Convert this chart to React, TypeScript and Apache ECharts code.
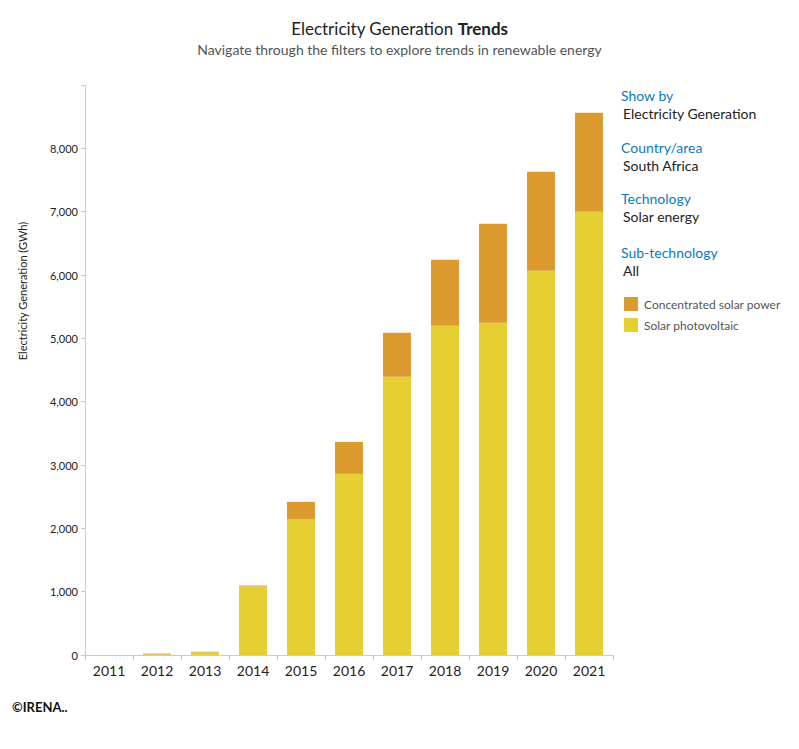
import React, { useEffect, useRef } from "react";
import * as echarts from "echarts";

const years = ["2011", "2012", "2013", "2014", "2015", "2016", "2017", "2018", "2019", "2020", "2021"];
const solarPV = [0, 10, 42, 1082, 2148, 2860, 4392, 5197, 5245, 6066, 6998];
const csp = [0, 12, 10, 14, 270, 505, 695, 1043, 1564, 1564, 1564];
const yTicks = [0, 1000, 2000, 3000, 4000, 5000, 6000, 7000, 8000];

const FONT = "Lato, 'Open Sans', sans-serif";
const BLUE = "#0a7bbd";
const ORANGE = "#dc9a2f";
const YELLOW = "#e5cf32";

export default function App() {
  const ref = useRef<HTMLDivElement>(null);
  useEffect(() => {
    if (!ref.current) return;
    const chart = echarts.init(ref.current, undefined, { renderer: "svg" });
    const panel = [
      ["Show by", "Electricity Generation", 97],
      ["Country/area", "South Africa", 149],
      ["Technology", "Solar energy", 200],
      ["Sub-technology", "All", 254],
    ];
    const graphics: any[] = [];
    panel.forEach(([h, v, y]) => {
      graphics.push({
        type: "text",
        left: 621,
        top: (y as number) - 9,
        style: { text: h as string, fill: BLUE, font: `14px ${FONT}`, lineHeight: 14 },
      });
      graphics.push({
        type: "text",
        left: 623,
        top: (y as number) + 9,
        style: { text: v as string, fill: "#222", font: `14px ${FONT}`, lineHeight: 14 },
      });
    });
    graphics.push({
      type: "text",
      x: 22,
      y: 291,
      rotation: Math.PI / 2,
      style: {
        text: "Electricity Generation (GWh)",
        fill: "#222",
        font: `11px ${FONT}`,
        align: "center",
        verticalAlign: "middle",
      },
    });
    graphics.push({
      type: "text",
      left: 12,
      top: 700,
      style: { text: "©IRENA..", fill: "#111", font: `bold 13px ${FONT}` },
    });
    chart.setOption({
      animation: false,
      backgroundColor: "#fff",
      textStyle: { fontFamily: FONT },
      title: {
        left: "center",
        top: 15,
        text: "{a|Electricity Generation }{b|Trends}",
        textStyle: {
          fontWeight: "normal",
          rich: {
            a: { fontSize: 17, color: "#222", fontWeight: "normal", fontFamily: FONT },
            b: { fontSize: 17, color: "#222", fontWeight: "bold", fontFamily: FONT },
          },
        },
        subtext: "Navigate through the filters to explore trends in renewable energy",
        subtextStyle: { fontSize: 14, color: "#555", fontFamily: FONT },
        itemGap: 5,
      },
      legend: {
        orient: "vertical",
        left: 624,
        top: 297,
        padding: 0,
        itemWidth: 14,
        itemHeight: 14,
        itemGap: 7,
        icon: "rect",
        data: ["Concentrated solar power", "Solar photovoltaic"],
        textStyle: { fontSize: 12, color: "#555", fontFamily: FONT, padding: [0, 0, 0, 1] },
      },
      grid: { left: 85, right: 186, top: 85, bottom: 94, containLabel: false },
      xAxis: {
        type: "category",
        data: years,
        axisLine: { lineStyle: { color: "#ccc" } },
        axisTick: { show: true, length: 5, lineStyle: { color: "#ccc" } },
        axisLabel: { fontSize: 14, color: "#222", margin: 8, fontFamily: FONT },
      },
      yAxis: {
        type: "value",
        min: 0,
        max: 9000,
        interval: 1000,
        axisLine: { show: true, lineStyle: { color: "#ccc" } },
        axisTick: { show: true, length: 4, lineStyle: { color: "#ccc" } },
        splitLine: { show: false },
        axisLabel: {
          fontSize: 11,
          color: "#222",
          margin: 7,
          fontFamily: FONT,
          formatter: (v: number) => (yTicks.includes(v) ? v.toLocaleString("en-US") : ""),
        },
      },
      series: [
        {
          name: "Solar photovoltaic",
          type: "bar",
          stack: "total",
          barWidth: 28,
          data: solarPV,
          itemStyle: { color: YELLOW },
        },
        {
          name: "Concentrated solar power",
          type: "bar",
          stack: "total",
          barWidth: 28,
          data: csp,
          itemStyle: { color: ORANGE },
        },
      ],
      graphic: graphics,
    });
    return () => chart.dispose();
  }, []);
  return <div ref={ref} style={{ width: 799, height: 749, margin: -8 }} />;
}
